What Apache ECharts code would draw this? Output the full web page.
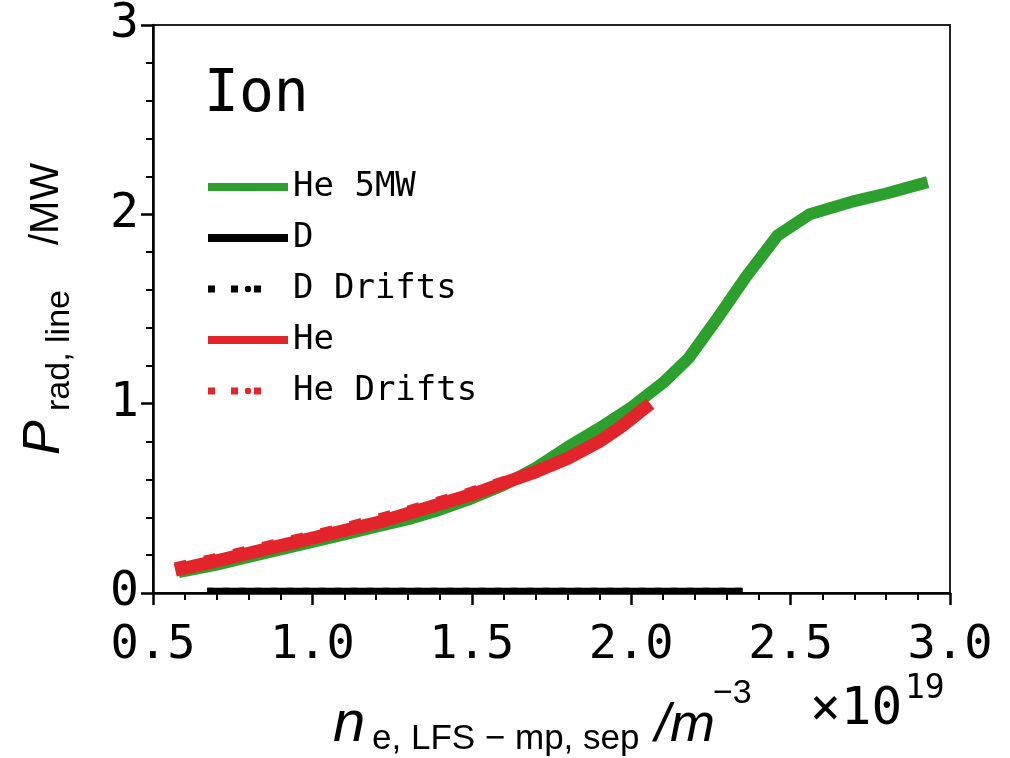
<!DOCTYPE html>
<html>
<head>
<meta charset="utf-8">
<script src="https://cdn.jsdelivr.net/npm/echarts@6/dist/echarts.min.js"></script>
<style>
html,body{margin:0;padding:0;background:#fff;}
#chart{width:1010px;height:758px;}
</style>
</head>
<body>
<div id="chart"></div>
<script>
// ---- data ----
const xTicks = [0.5, 1.0, 1.5, 2.0, 2.5, 3.0];
const yTicks = [0, 1, 2, 3];

const he5MWX = [0.58, 0.7, 0.8, 0.9, 1.0, 1.1, 1.2, 1.3, 1.4, 1.5, 1.6, 1.7, 1.8, 1.9, 2.0, 2.1, 2.18, 2.27, 2.36, 2.46, 2.56, 2.7, 2.8, 2.93];
const he5MWY = [0.11, 0.15, 0.19, 0.23, 0.27, 0.31, 0.35, 0.39, 0.44, 0.50, 0.57, 0.66, 0.77, 0.87, 0.98, 1.11, 1.24, 1.45, 1.67, 1.89, 2.00, 2.07, 2.11, 2.17];

const dX = [0.67, 1.0, 1.5, 2.0, 2.35];
const dY = [0.012, 0.012, 0.012, 0.012, 0.012];

const dDriftsX = [0.67, 1.0, 1.5, 2.0, 2.35];
const dDriftsY = [0.012, 0.012, 0.012, 0.012, 0.012];

const heX = [0.57, 0.7, 0.8, 0.9, 1.0, 1.1, 1.2, 1.3, 1.4, 1.5, 1.6, 1.7, 1.8, 1.9, 1.97, 2.06];
const heY = [0.12, 0.17, 0.21, 0.25, 0.29, 0.33, 0.37, 0.42, 0.47, 0.52, 0.58, 0.64, 0.71, 0.80, 0.88, 1.00];

const heDriftsX = [0.57, 0.7, 0.8, 0.9, 1.0, 1.1, 1.2, 1.3, 1.4, 1.5, 1.6, 1.7, 1.8, 1.9, 1.97, 2.06];
const heDriftsY = [0.13, 0.18, 0.22, 0.26, 0.30, 0.34, 0.385, 0.43, 0.48, 0.53, 0.585, 0.64, 0.71, 0.80, 0.88, 1.00];

const GREEN = '#2ca02c';
const RED = '#e3242b';
const MONO = 'DejaVu Sans Mono';
const SANS = 'Liberation Sans';

function pairs(xs, ys) { return xs.map((x, i) => [x, ys[i]]); }

const chart = echarts.init(document.getElementById('chart'), null, {renderer: 'canvas'});

const option = {
  backgroundColor: '#fff',
  animation: false,
  grid: {
    left: 153, right: 60, top: 25, bottom: 165,
    show: true, borderColor: '#222', borderWidth: 2, backgroundColor: 'transparent'
  },
  legend: {
    orient: 'vertical',
    left: 199, top: 165,
    itemWidth: 80, itemHeight: 8, itemGap: 17,
    textStyle: {fontFamily: MONO, fontSize: 34, color: '#000'},
    data: [
      {name: 'He 5MW', lineStyle: {width: 8}},
      {name: 'D', lineStyle: {width: 8}},
      {name: 'D Drifts', lineStyle: {width: 7, type: [7, 16, 7, 16, 7, 40]}},
      {name: 'He', lineStyle: {width: 8}},
      {name: 'He Drifts', lineStyle: {width: 7, type: [7, 16, 7, 16, 7, 40]}}
    ]
  },
  xAxis: {
    type: 'value',
    min: xTicks[0], max: xTicks[xTicks.length - 1], interval: 0.5,
    axisLine: {show: true, onZero: false, lineStyle: {color: '#000', width: 2.5}},
    axisTick: {show: true, inside: false, length: 12, lineStyle: {color: '#000', width: 2.5}},
    minorTick: {show: true, splitNumber: 5, length: 7, lineStyle: {color: '#000', width: 2}},
    splitLine: {show: false},
    minorSplitLine: {show: false},
    axisLabel: {
      margin: 29, color: '#000', fontFamily: MONO, fontSize: 47,
      formatter: v => v.toFixed(1)
    }
  },
  yAxis: {
    type: 'value',
    min: yTicks[0], max: yTicks[yTicks.length - 1], interval: 1,
    axisLine: {show: true, lineStyle: {color: '#000', width: 2.5}},
    axisTick: {show: true, inside: false, length: 12, lineStyle: {color: '#000', width: 2.5}},
    minorTick: {show: true, splitNumber: 5, length: 7, lineStyle: {color: '#000', width: 2}},
    splitLine: {show: false},
    minorSplitLine: {show: false},
    axisLabel: {
      margin: 14, color: '#000', fontFamily: MONO, fontSize: 48,
      formatter: v => String(Math.round(v))
    }
  },
  series: [
    {
      name: 'He 5MW', type: 'line', data: pairs(he5MWX, he5MWY),
      symbol: 'none', showSymbol: false, color: GREEN,
      lineStyle: {color: GREEN, width: 12, join: 'round'}, z: 2
    },
    {
      name: 'D', type: 'line', data: pairs(dX, dY),
      symbol: 'none', showSymbol: false, color: '#000',
      lineStyle: {color: '#000', width: 6}, z: 3
    },
    {
      name: 'D Drifts', type: 'line', data: pairs(dDriftsX, dDriftsY),
      symbol: 'none', showSymbol: false, color: '#000',
      lineStyle: {color: '#000', width: 6, type: [6, 10]}, z: 3
    },
    {
      name: 'He', type: 'line', data: pairs(heX, heY),
      symbol: 'none', showSymbol: false, color: RED,
      lineStyle: {color: RED, width: 13, join: 'round'}, z: 4
    },
    {
      name: 'He Drifts', type: 'line', data: pairs(heDriftsX, heDriftsY),
      symbol: 'none', showSymbol: false, color: RED,
      lineStyle: {color: RED, width: 12, type: [12, 18]}, z: 5
    }
  ],
  graphic: [
    {
      type: 'text', left: 204, top: 67, z: 10,
      style: {text: 'Ion', fontFamily: MONO, fontSize: 58, fill: '#000'}
    },
    // y-axis title, rotated
    {
      type: 'group', x: 45, y: 455, rotation: Math.PI / 2, z: 10,
      children: [
        {type: 'text', x: 0, y: 0, style: {text: 'P', fontFamily: SANS, fontStyle: 'italic', fontSize: 52, fill: '#000', verticalAlign: 'middle', align: 'left'}},
        {type: 'text', x: 44, y: 15, style: {text: 'rad, line', fontFamily: SANS, fontSize: 34, fill: '#000', verticalAlign: 'middle', align: 'left'}},
        {type: 'text', x: 210, y: 2, style: {text: '/MW', fontFamily: SANS, fontSize: 40, fill: '#000', verticalAlign: 'middle', align: 'left'}}
      ]
    },
    // x-axis title
    {type: 'text', x: 333, y: 725, z: 10, style: {text: 'n', fontFamily: SANS, fontStyle: 'italic', fontSize: 58, fill: '#000', verticalAlign: 'middle'}},
    {type: 'text', x: 372, y: 739, z: 10, style: {text: 'e, LFS \u2212 mp, sep', fontFamily: SANS, fontSize: 35, fill: '#000', verticalAlign: 'middle'}},
    {type: 'text', x: 655, y: 726, z: 10, style: {text: '/m', fontFamily: SANS, fontStyle: 'italic', fontSize: 54, fill: '#000', verticalAlign: 'middle'}},
    {type: 'text', x: 713, y: 694, z: 10, style: {text: '\u22123', fontFamily: SANS, fontSize: 34, fill: '#000', verticalAlign: 'middle'}},
    {type: 'text', x: 810, y: 711, z: 10, style: {text: '\u00d710', fontFamily: MONO, fontSize: 51, fill: '#000', verticalAlign: 'middle'}},
    {type: 'text', x: 905, y: 689, z: 10, style: {text: '19', fontFamily: MONO, fontSize: 33, fill: '#000', verticalAlign: 'middle'}}
  ]
};

chart.setOption(option);
</script>
</body>
</html>
